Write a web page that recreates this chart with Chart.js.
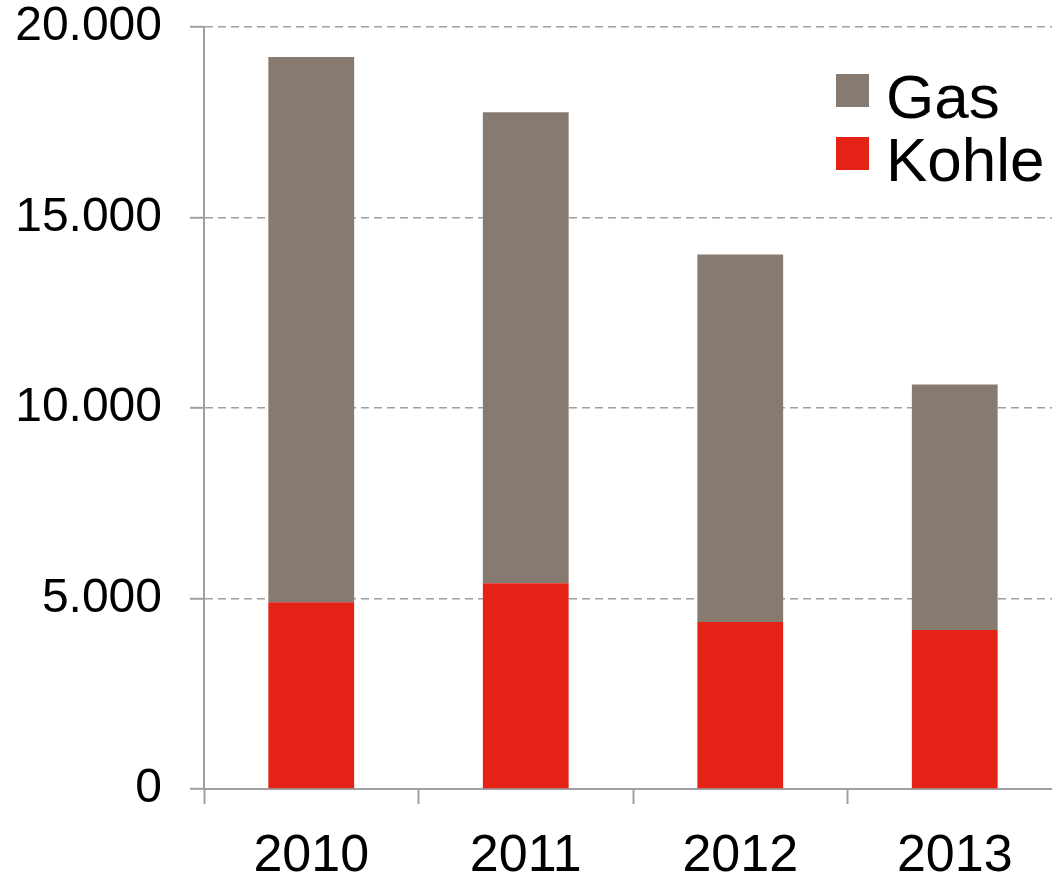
<!DOCTYPE html>
<html>
<head>
<meta charset="utf-8">
<script src="https://cdn.jsdelivr.net/npm/chart.js@4/dist/chart.umd.min.js"></script>
<style>
  html, body { margin: 0; padding: 0; background: #fff; overflow: hidden; }
  #wrap { position: relative; width: 1062px; height: 879px; }
</style>
</head>
<body>
<div id="wrap"><canvas id="chart"></canvas></div>
<script>
const years = ["2010", "2011", "2012", "2013"];
const kohle = [4900, 5400, 4380, 4170];
const gas = [14310, 12360, 9650, 6450];
const yTicks = [0, 5000, 10000, 15000, 20000];

const gasColor = "#877A71";
const kohleColor = "#E42215";
const lineGrey = "#A0A0A0";

function formatDe(v) {
  return String(v).replace(/\B(?=(\d{3})+(?!\d))/g, ".");
}

// legend in the top right corner of the plot, Gas above Kohle
const cornerLegend = {
  id: "cornerLegend",
  afterDraw(c) {
    const ctx = c.ctx;
    const items = c.data.datasets.slice().reverse();
    ctx.save();
    ctx.font = "62px 'Liberation Sans', Arial, sans-serif";
    ctx.textBaseline = "alphabetic";
    items.forEach((ds, i) => {
      const top = 74 + i * 63;
      ctx.fillStyle = ds.backgroundColor;
      ctx.fillRect(836, top, 33, 33);
      ctx.fillStyle = "#000";
      ctx.fillText(ds.label, 886, top + 44);
    });
    ctx.restore();
  }
};

new Chart(document.getElementById("chart"), {
  type: "bar",
  data: {
    labels: years,
    datasets: [
      { label: "Kohle", data: kohle, backgroundColor: kohleColor },
      { label: "Gas", data: gas, backgroundColor: gasColor }
    ]
  },
  options: {
    responsive: true,
    maintainAspectRatio: false,
    animation: false,
    layout: { padding: 0 },
    plugins: { legend: { display: false }, tooltip: { enabled: false } },
    datasets: { bar: { categoryPercentage: 1, barPercentage: 0.4 } },
    scales: {
      x: {
        stacked: true,
        afterFit(scale) { scale.height = 90; scale.paddingLeft = 0; scale.paddingRight = 0; },
        grid: { drawOnChartArea: false, drawTicks: true, tickLength: 15, tickColor: lineGrey, tickWidth: 2 },
        border: { color: lineGrey, width: 2 },
        ticks: {
          color: "#000",
          padding: 21,
          font: { family: "'Liberation Sans', Arial, sans-serif", size: 52 }
        }
      },
      y: {
        stacked: true,
        min: 0,
        max: 20000,
        afterBuildTicks(scale) { scale.ticks = yTicks.map(v => ({ value: v })); },
        afterFit(scale) { scale.width = 204; scale.paddingTop = 27; scale.paddingBottom = 0; },
        grid: { color: lineGrey, lineWidth: 1.6, tickLength: 14, tickColor: lineGrey, tickWidth: 2, tickBorderDash: [] },
        border: { color: lineGrey, width: 2, dash: [8, 5] },
        ticks: {
          color: "#000",
          padding: 28,
          font: { family: "'Liberation Sans', Arial, sans-serif", size: 48 },
          callback: v => formatDe(v)
        }
      }
    }
  },
  plugins: [cornerLegend]
});
</script>
</body>
</html>
